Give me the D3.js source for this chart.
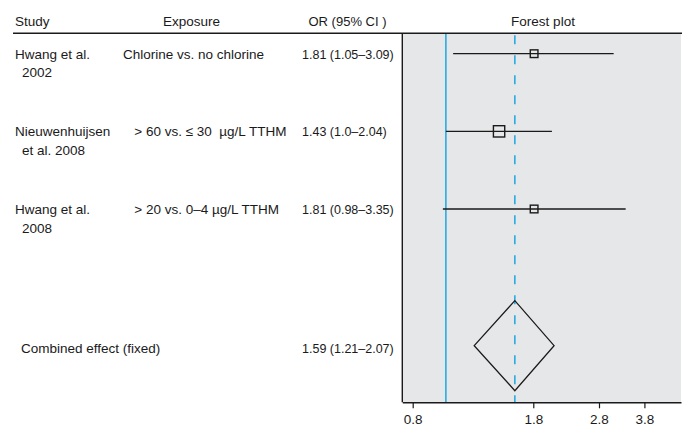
<!DOCTYPE html>
<html>
<head>
<meta charset="utf-8">
<script src="https://cdn.jsdelivr.net/npm/d3@7"></script>
<style>
  html, body { margin: 0; padding: 0; background: #fff; }
  #chart { width: 687px; height: 428px; }
</style>
</head>
<body>
<div id="chart"></div>
<script>
// study rows
const studyNames = [["Hwang et al.", "2002"], ["Nieuwenhuijsen", "et al. 2008"], ["Hwang et al.", "2008"]];
const exposures = ["Chlorine vs. no chlorine", "   > 60 vs. \u2264 30  \u00b5g/L TTHM", "   > 20 vs. 0\u20134 \u00b5g/L TTHM"];
const oddsRatios = [1.81, 1.43, 1.81];
const lowerCI = [1.05, 1.0, 0.98];
const upperCI = [3.09, 2.04, 3.35];
const weights = [24, 52, 24];
const orLabels = ["1.81 (1.05\u20133.09)", "1.43 (1.0\u20132.04)", "1.81 (0.98\u20133.35)"];

// combined effect
const combinedLabel = "Combined effect (fixed)";
const combinedOR = 1.59;
const combinedLower = 1.21;
const combinedUpper = 2.07;
const combinedText = "1.59 (1.21\u20132.07)";

const headers = ["Study", "Exposure", "OR (95% CI )", "Forest plot"];
const xTicks = [0.8, 1.8, 2.8, 3.8];
const nullValue = 1;

function renderForest(selector = "#chart") {
    const width = 687;
    const height = 428;
    const plot = { left: 402.3, right: 681, top: 33.3, bottom: 402.3 };
    const font = "'Liberation Sans', Arial, sans-serif";
    const blue = "#29abe2";
    const ink = "#1a1a1a";

    const svg = d3.select(selector).append("svg")
        .attr("width", width)
        .attr("height", height)
        .style("font-family", font);

    const x = d3.scaleLog()
        .domain([0.746, 4.86])
        .range([plot.left, plot.right]);

    // row index -> vertical centre
    const y = d3.scaleLinear()
        .domain([0, 1])
        .range([53.7, 131.35]);
    const combinedRow = 3.76;

    const size = d3.scaleSqrt().domain([0, 52]).range([0, 11.3]);

    // plot background
    svg.append("rect")
        .attr("x", plot.left)
        .attr("y", plot.top)
        .attr("width", plot.right - plot.left)
        .attr("height", plot.bottom - plot.top)
        .attr("fill", "#e6e7e8");

    // headers
    const hdr = svg.append("g")
        .attr("fill", ink)
        .style("font-size", "13.5px");
    hdr.append("text").attr("x", 15).attr("y", 25.5).text(headers[0]);
    hdr.append("text").attr("x", 191.5).attr("y", 25.5).attr("text-anchor", "middle").text(headers[1]);
    hdr.append("text").attr("x", 386.5).attr("y", 25.5).attr("text-anchor", "end").style("font-size", "13px").text(headers[2]);
    hdr.append("text").attr("x", 543).attr("y", 25.5).attr("text-anchor", "middle").text(headers[3]);

    // reference lines
    svg.append("line")
        .attr("x1", x(nullValue)).attr("x2", x(nullValue))
        .attr("y1", plot.top).attr("y2", plot.bottom)
        .attr("stroke", blue)
        .attr("stroke-width", 1.6);

    svg.append("line")
        .attr("x1", x(combinedOR)).attr("x2", x(combinedOR))
        .attr("y1", plot.top + 2).attr("y2", plot.bottom)
        .attr("stroke", blue)
        .attr("stroke-width", 1.6)
        .attr("stroke-dasharray", "9,11");

    // axis
    const axis = svg.append("g")
        .attr("transform", `translate(0,${plot.bottom})`)
        .call(d3.axisBottom(x).tickValues(xTicks).tickFormat(d3.format(".1f")).tickSize(6).tickSizeOuter(0));
    axis.select(".domain").attr("stroke", ink).attr("stroke-width", 1.4);
    axis.selectAll(".tick line").attr("stroke", ink).attr("stroke-width", 1.2);
    axis.selectAll(".tick text")
        .attr("fill", ink)
        .attr("y", 12)
        .style("font-family", font)
        .style("font-size", "13.5px");

    // left border and header rule
    svg.append("line")
        .attr("x1", plot.left).attr("x2", plot.left)
        .attr("y1", plot.top).attr("y2", plot.bottom)
        .attr("stroke", ink)
        .attr("stroke-width", 1.4);
    svg.append("line")
        .attr("x1", 13).attr("x2", plot.right + 1)
        .attr("y1", plot.top).attr("y2", plot.top)
        .attr("stroke", ink)
        .attr("stroke-width", 1.5);

    // row text
    const rows = svg.append("g").attr("fill", ink).style("font-size", "13.5px");
    studyNames.forEach((lines, i) => {
        const cy = y(i);
        rows.append("text").attr("x", 15).attr("y", cy + 5).text(lines[0]);
        rows.append("text").attr("x", 22).attr("y", cy + 23.5).text(lines[1]);
        rows.append("text").attr("x", 123).attr("y", cy + 5)
            .style("white-space", "pre")
            .text(exposures[i]);
        rows.append("text").attr("x", 302).attr("y", cy + 5)
            .style("font-size", "12.5px")
            .text(orLabels[i]);
    });
    rows.append("text").attr("x", 21).attr("y", y(combinedRow) + 7).text(combinedLabel);
    rows.append("text").attr("x", 302).attr("y", y(combinedRow) + 7)
        .style("font-size", "12.5px")
        .text(combinedText);

    // CI lines and squares
    const marks = svg.append("g");
    oddsRatios.forEach((or, i) => {
        const cy = y(i);
        marks.append("line")
            .attr("x1", x(lowerCI[i])).attr("x2", x(upperCI[i]))
            .attr("y1", cy).attr("y2", cy)
            .attr("stroke", ink)
            .attr("stroke-width", 1.3);
        const s = size(weights[i]);
        marks.append("rect")
            .attr("x", x(or) - s / 2)
            .attr("y", cy - s / 2)
            .attr("width", s)
            .attr("height", s)
            .attr("fill", "none")
            .attr("stroke", ink)
            .attr("stroke-width", 1.4);
    });

    // combined diamond
    const cy = y(combinedRow);
    const half = 45;
    marks.append("path")
        .attr("d", `M${x(combinedLower)},${cy}L${x(combinedOR)},${cy - half}L${x(combinedUpper)},${cy}L${x(combinedOR)},${cy + half}Z`)
        .attr("fill", "none")
        .attr("stroke", ink)
        .attr("stroke-width", 1.3);
}

renderForest();
</script>
</body>
</html>
